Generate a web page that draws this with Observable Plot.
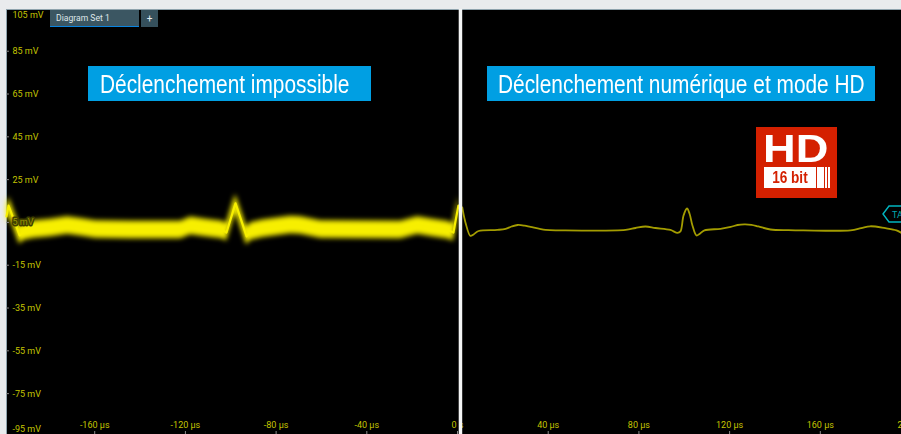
<!DOCTYPE html>
<html><head><meta charset="utf-8">
<script src="https://cdn.jsdelivr.net/npm/d3@7"></script>
<script src="https://cdn.jsdelivr.net/npm/@observablehq/plot@0.6"></script>
<style>
html,body{margin:0;padding:0;background:#e9ebed;overflow:hidden}
#wrap{position:relative;width:901px;height:434px;overflow:hidden;font-family:Roboto,"Noto Sans",sans-serif}
#wrap svg.plot-root{display:block}
.abs{position:absolute;box-sizing:border-box}
.banner{background:#009fe3;color:#fff;font-family:"Liberation Sans",sans-serif;font-size:25px;line-height:37px;height:35px;top:66px;white-space:nowrap;overflow:hidden}
.banner span{display:inline-block;transform-origin:0 50%}
</style></head><body><div id="wrap"></div>
<script>
const yTickValues = [85,65,45,25,-15,-35,-55,-75];
const yTopValue = [105];
const yBottomValue = [-95];
const yTraceValue = [5];
const xTickValues = [-160,-120,-80,-40,0,40,80,120,160,200];
const leftTimes = [-198.9,-198,-193.1,-191.4,-187,-179.5,-172,-166.2,-159.6,-144.2,-122.1,-117.7,-111.1,-103.6,-101.9,-97.9,-93,-91.3,-86,-73.6,-69.2,-60.4,-25.1,-17.6,-11,-4,-1.8,0.4];
const leftValues = [7.8,12.9,-1.1,0.8,1.7,2.4,3.6,2.7,1.7,1.5,1.5,3.4,2.4,1.5,0.3,13.9,-1.5,0.8,2,3.8,3.6,1.7,1.5,3.6,2.4,1.3,0.3,12.9];
const rightTimes = [2.1,3.5,5.7,7.1,9.3,17.6,21.2,23.8,26.5,29.6,32.2,38.8,45.4,74.1,78.5,82.9,87.3,93.9,97,98.3,99.7,101.2,102.3,103.6,105.4,106.7,108.9,116,120.5,123.5,126.5,129.6,132.7,138,146,152.5,173.3,178,182,188.7,193.6,195.8];
const rightValues = [12,5,-1.3,-0.6,1,1.5,2,3.1,3.8,3.5,2.9,1.5,1.3,1.5,2.4,3.1,2.4,1.5,0.1,0.8,8.3,11.5,9.2,3.6,-1.1,-0.4,1.3,2,2.9,3.8,4.1,3.9,3.1,1.7,1.4,1.3,1.3,2.3,3.2,2.3,1.3,0.1];
const dividerTime = [1.3];
const bandSpread = 4.1;

const left = leftTimes.map((t,i)=>({t,v:leftValues[i]}));
const right = rightTimes.map((t,i)=>({t,v:rightValues[i]}));
const yLabel = v => `${v} mV`;
const xLabel = t => t===0 ? "0 s" : `${t} µs`;
const XMIN = -198.9, XTICK = -197.6, YMIN = -94.1, YTICK = -92.7;
const LABEL = "#c4c400";
const yText = {x:XMIN,y:d=>d,text:yLabel,textAnchor:"start",dx:6,fill:LABEL};
const blur = r => (index,scales,values,dims,ctx,next) => {
  const g = next(index,scales,values,dims,ctx);
  g.style.filter = `blur(${r}px)`;
  return g;
};

const plot = Plot.plot({
  width:901,height:434,marginLeft:6,marginTop:9,marginRight:0,marginBottom:0,
  style:{background:"transparent",fontFamily:"Roboto, 'Noto Sans', sans-serif",fontSize:"9px"},
  x:{domain:[XMIN,195.8],axis:null},
  y:{domain:[YMIN,104.5],axis:null},
  marks:[
    Plot.frame({fill:"black",stroke:"#8fa3ad",strokeWidth:1}),
    Plot.areaY(left,{x:"t",y1:r=>r.v-bandSpread,y2:r=>r.v+bandSpread,fill:"#f7ef00",render:blur(2.6)}),
    Plot.line(left,{x:"t",y:"v",stroke:"#f7ef00",strokeWidth:2.2,render:blur(0.6)}),
    Plot.line(right,{x:"t",y:"v",stroke:"#a39c00",strokeWidth:1.8,curve:"catmull-rom"}),
    Plot.text(yTraceValue,{...yText,fill:"#9a9400",stroke:"#3f3f00",strokeWidth:3}),
    Plot.text(yTickValues,yText),
    Plot.text(yTopValue,{...yText,dy:7}),
    Plot.text(yBottomValue,{...yText,dy:-7}),
    Plot.ruleY([...yTickValues,...yTraceValue],{y:d=>d,x1:XMIN,x2:XTICK,stroke:"#8a8a8a"}),
    Plot.text(xTickValues,{x:d=>d,y:YMIN,dy:-9,text:xLabel,fill:LABEL}),
    Plot.ruleX(xTickValues,{x:d=>d,y1:YTICK,y2:YMIN,stroke:"#8a8a8a"}),
    Plot.ruleX(dividerTime,{x:d=>d,stroke:"#f4f5f5",strokeWidth:3.5})
  ]
});
const wrap = document.getElementById("wrap");
wrap.appendChild(plot);

function add(css,html,cls){const e=document.createElement("div");e.className="abs "+(cls||"");e.style.cssText+=css;e.innerHTML=html||"";wrap.appendChild(e);return e;}
add("left:50px;top:10px;width:89px;height:17px;background:#3b5662;border-bottom:1.5px solid #0a84e0;color:#dfe6e9;font-size:8.6px;line-height:16px;padding-left:6px","Diagram Set 1");
add("left:141px;top:10px;width:17px;height:17px;background:#35505c;color:#e8eef0;font-size:10px;line-height:17px;text-align:center","+");
add("left:88px;width:283px;padding-left:12px","<span style='transform:scaleX(.835)'>Déclenchement impossible</span>","banner");
add("left:487px;width:388px;padding-left:11px","<span style='transform:scaleX(.835)'>Déclenchement numérique et mode HD</span>","banner");
add("left:756px;top:127px;width:81px;height:71px;background:#d42000");
add("left:763px;top:128px;width:68px;height:42px;color:#fff;font:bold 39px/42px 'Liberation Sans',sans-serif;white-space:nowrap;transform-origin:0 50%;transform:scaleX(1.16)","HD");
add("left:764px;top:167px;width:52px;height:21px;background:#fff;color:#d42000;font:bold 16px/21px 'Liberation Sans',sans-serif;text-align:center","<span style='display:inline-block;transform:scaleX(.85)'>16 bit</span>");
add("left:817px;top:167px;width:6.5px;height:21px;background:#fff");
add("left:824.5px;top:167px;width:2px;height:21px;background:#fff");
add("left:828px;top:167px;width:2px;height:21px;background:#fff");
add("left:882px;top:205px;width:19px;height:18px;overflow:hidden",
 '<svg width="30" height="18" style="display:block"><polygon points="1,9 7,1 30,1 30,17 7,17" fill="#000" stroke="#00b5c0" stroke-width="1.4"/><text x="10" y="12.5" fill="#00a5b0" font-size="9" font-family="Roboto">TA</text></svg>');
</script></body></html>
